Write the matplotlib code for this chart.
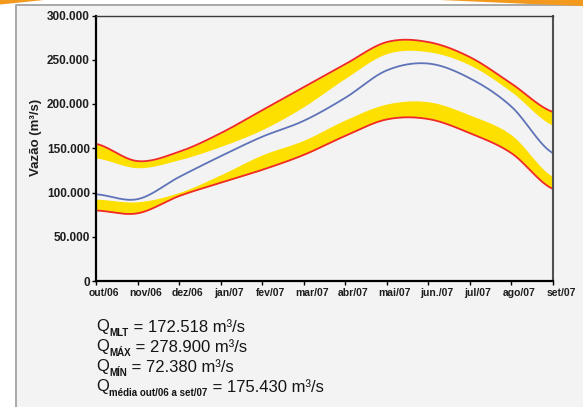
import numpy as np
import matplotlib.pyplot as plt
from matplotlib.ticker import FuncFormatter
from matplotlib.patches import Polygon
from matplotlib.lines import Line2D
import matplotlib.transforms as mtransforms

plt.rcParams['font.family'] = ['Liberation Sans', 'DejaVu Sans']

meses = ["out/06", "nov/06", "dez/06", "jan/07", "fev/07", "mar/07", "abr/07",
         "mai/07", "jun./07", "jul/07", "ago/07", "set/07"]

# vazões em mil m³/s
maxima = [155, 135.5, 146, 167, 193, 219, 245, 270, 270, 253, 223, 191]
faixa_sup_inf = [139, 128, 137, 152, 171, 197, 229, 257, 259, 244, 213.7, 176]
media = [98, 92.5, 117.5, 141, 163, 181, 207, 238, 245.7, 229, 197, 144.4]
faixa_inf_sup = [92.5, 89.5, 100, 120, 142.5, 159, 182, 200, 202.5, 187.5, 165, 118]
minima = [79.7, 76.5, 96, 111, 125.6, 142.5, 164, 182.6, 183, 167, 144.4, 104]

resumo = [("MLT", " = 172.518 m³/s"),
          ("MÁX", " = 278.900 m³/s"),
          ("MÍN", " = 72.380 m³/s"),
          ("média out/06 a set/07", " = 175.430 m³/s")]


def suaviza(valores, n=30):
    """Curva suavizada (Catmull-Rom) passando pelos pontos mensais."""
    p = np.asarray(valores, float) * 1000
    p = np.concatenate([[p[0]], p, [p[-1]]])
    xs, ys = [], []
    t = np.linspace(0, 1, n, endpoint=False)
    for i in range(len(p) - 3):
        p0, p1, p2, p3 = p[i:i + 4]
        y = 0.5 * ((2 * p1) + (-p0 + p2) * t + (2 * p0 - 5 * p1 + 4 * p2 - p3) * t ** 2
                   + (-p0 + 3 * p1 - 3 * p2 + p3) * t ** 3)
        xs.append(i + t)
        ys.append(y)
    xs.append([len(p) - 3])
    ys.append([p[-2]])
    return np.concatenate(xs), np.concatenate(ys)


W, H = 583, 407
fig = plt.figure(figsize=(W / 100, H / 100), dpi=100)
fig.patch.set_facecolor("white")

# painel de fundo cinza com borda
fig.patches.append(Polygon([[15.5 / W, 0], [15.5 / W, 1 - 4.5 / H], [1, 1 - 4.5 / H], [1, 0]],
                           closed=True, transform=fig.transFigure, facecolor="#f3f3f3",
                           edgecolor="none", zorder=-5))
fig.lines.append(Line2D([15.5 / W, 15.5 / W, 1], [0, 1 - 4.5 / H, 1 - 4.5 / H],
                        transform=fig.transFigure, color="#a8a8a8", lw=1.4, zorder=-4))
# faixas laranja no topo
fig.patches.append(Polygon([[0, 1], [44 / W, 1], [20 / W, 1 - 2.5 / H], [0, 1 - 4.5 / H]],
                           closed=True, transform=fig.transFigure, facecolor="#f39a1e",
                           edgecolor="none", zorder=-3))
fig.patches.append(Polygon([[440 / W, 1], [1, 1], [1, 1 - 6 / H], [530 / W, 1 - 4 / H]],
                           closed=True, transform=fig.transFigure, facecolor="#f39a1e",
                           edgecolor="none", zorder=-3))

ax = fig.add_axes([96 / W, 1 - 281 / H, 457 / W, 265.5 / H])
ax.set_facecolor("#f3f3f3")

x = np.arange(len(meses))
xs, y_max = suaviza(maxima)
_, y_fs = suaviza(faixa_sup_inf)
_, y_med = suaviza(media)
_, y_fi = suaviza(faixa_inf_sup)
_, y_min = suaviza(minima)

ax.fill_between(xs, y_fs, y_max, color="#fde000", lw=0)
ax.fill_between(xs, y_min, y_fi, color="#fde000", lw=0)
ax.plot(xs, y_max, color="#f0282a", lw=1.3)
ax.plot(xs, y_min, color="#f0282a", lw=1.3)
ax.plot(xs, y_med, color="#5f73b8", lw=1.3)

ax.set_xlim(0, 11)
ax.set_ylim(0, 300000)
ax.set_yticks(np.arange(0, 300001, 50000))
ax.yaxis.set_major_formatter(FuncFormatter(lambda v, _: f"{int(v):,}".replace(",", ".")))
ax.set_xticks(x)
ax.set_xticklabels(meses)

ax.tick_params(axis="y", direction="out", length=3, width=1, pad=1.5,
               labelsize=8.5, labelcolor="#1e1e1e")
ax.tick_params(axis="x", direction="out", length=3, width=1, pad=2,
               labelsize=7.5, labelcolor="#1e1e1e")
for lab in ax.get_yticklabels() + ax.get_xticklabels():
    lab.set_fontweight("bold")
desloca = mtransforms.ScaledTranslation(8 / 100, 0, fig.dpi_scale_trans)
for lab in ax.get_xticklabels():
    lab.set_transform(lab.get_transform() + desloca)

for lado in ("left", "bottom"):
    ax.spines[lado].set_linewidth(1.6)
    ax.spines[lado].set_color("black")
ax.spines["top"].set_linewidth(1.0)
ax.spines["top"].set_color("#3a3a3a")
ax.spines["right"].set_linewidth(1.5)
ax.spines["right"].set_color("#505050")

fig.text(36 / W, 1 - 137 / H, "Vazão (m³/s)", rotation=90, ha="center", va="center",
         fontsize=9.5, fontweight="bold", color="#1e1e1e")

# resumo das vazões abaixo do gráfico
renderer = fig.canvas.get_renderer()
x0 = 96
cor_txt = "#151515"
for k, (sub, valor) in enumerate(resumo):
    base = 331.5 + 20 * k
    tq = fig.text(x0 / W, 1 - base / H, "Q", fontsize=12, color=cor_txt, va="baseline")
    xq = tq.get_window_extent(renderer).x1
    ts = fig.text((xq + 0.5) / W, 1 - (base + 4.5) / H, sub, fontsize=7, fontweight="bold",
                  color=cor_txt, va="baseline")
    xs_fim = ts.get_window_extent(renderer).x1
    fig.text(xs_fim / W, 1 - base / H, valor, fontsize=12, color=cor_txt, va="baseline")

fig.savefig("out.png", dpi=100)
